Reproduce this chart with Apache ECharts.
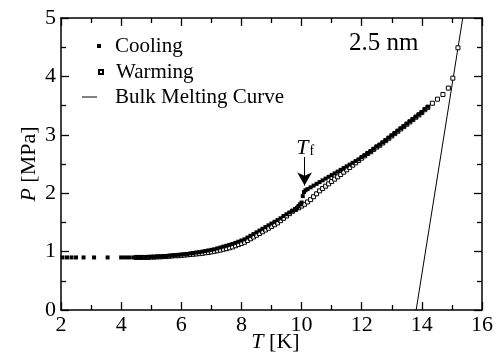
<!DOCTYPE html>
<html>
<head>
<meta charset="utf-8">
<script src="https://cdn.jsdelivr.net/npm/echarts@6/dist/echarts.min.js"></script>
<style>
  html, body { margin: 0; padding: 0; background: #fff; }
  #chart { width: 501px; height: 354px; }
</style>
</head>
<body>
<div id="chart"></div>
<script>
// cooling run, [T (K), P (MPa)]
const coolingPts = [
  [2.05, 0.9], [2.2, 0.9], [2.35, 0.9], [2.5, 0.9], [2.75, 0.9], [3.1, 0.9], [3.55, 0.9],
  [4.0, 0.9], [4.13, 0.9], [4.26, 0.9], [4.4, 0.9], [4.53, 0.905], [4.66, 0.905], [4.8, 0.905],
  [4.9, 0.91], [5.0, 0.91], [5.1, 0.91], [5.2, 0.915], [5.3, 0.915], [5.4, 0.92], [5.5, 0.925],
  [5.6, 0.93], [5.7, 0.935], [5.8, 0.94], [5.9, 0.945], [6.0, 0.95], [6.1, 0.955], [6.2, 0.96],
  [6.3, 0.97], [6.4, 0.975], [6.5, 0.985], [6.6, 0.99], [6.7, 1.0], [6.8, 1.01], [6.9, 1.02],
  [7.0, 1.03], [7.1, 1.04], [7.2, 1.055], [7.3, 1.07], [7.4, 1.085], [7.5, 1.1], [7.6, 1.115],
  [7.7, 1.13], [7.8, 1.15], [7.9, 1.17], [8.0, 1.19], [8.1, 1.21], [8.2, 1.24], [8.3, 1.27],
  [8.4, 1.3], [8.5, 1.33], [8.6, 1.36], [8.7, 1.39], [8.8, 1.42], [8.9, 1.45], [9.0, 1.48],
  [9.1, 1.51], [9.2, 1.54], [9.3, 1.57], [9.4, 1.61], [9.5, 1.64], [9.6, 1.67], [9.7, 1.7],
  [9.8, 1.73], [9.85, 1.75], [9.9, 1.78], [9.95, 1.81], [10.0, 1.84], [10.04, 1.95],
  [10.08, 2.02], [10.13, 2.05], [10.2, 2.07], [10.3, 2.1], [10.4, 2.13], [10.5, 2.16],
  [10.6, 2.19], [10.7, 2.22], [10.8, 2.25], [10.9, 2.28], [11.0, 2.31], [11.1, 2.34],
  [11.2, 2.37], [11.3, 2.4], [11.4, 2.43], [11.5, 2.46], [11.6, 2.49], [11.7, 2.52],
  [11.8, 2.55], [11.9, 2.58], [12.0, 2.62], [12.1, 2.65], [12.2, 2.69], [12.3, 2.72],
  [12.4, 2.76], [12.5, 2.8], [12.6, 2.83], [12.7, 2.87], [12.8, 2.91], [12.9, 2.95],
  [13.0, 2.99], [13.1, 3.03], [13.2, 3.07], [13.3, 3.11], [13.4, 3.15], [13.5, 3.19],
  [13.6, 3.23], [13.7, 3.27], [13.8, 3.31], [13.9, 3.35], [14.0, 3.39], [14.1, 3.44], [14.2, 3.48]
];

// warming run
const warmingPts = [
  [4.5, 0.9], [4.6, 0.9], [4.7, 0.9], [4.8, 0.9], [4.9, 0.9], [5.0, 0.905], [5.1, 0.905],
  [5.2, 0.91], [5.3, 0.91], [5.4, 0.915], [5.5, 0.915], [5.6, 0.92], [5.7, 0.925], [5.8, 0.93],
  [5.9, 0.93], [6.0, 0.935], [6.1, 0.94], [6.2, 0.945], [6.3, 0.95], [6.4, 0.955], [6.5, 0.96],
  [6.6, 0.965], [6.7, 0.97], [6.8, 0.98], [6.9, 0.985], [7.0, 0.995], [7.1, 1.005], [7.2, 1.015],
  [7.3, 1.025], [7.4, 1.04], [7.5, 1.05], [7.6, 1.065], [7.7, 1.08], [7.8, 1.1], [7.9, 1.12],
  [8.0, 1.14], [8.1, 1.16], [8.2, 1.19], [8.3, 1.22], [8.4, 1.25], [8.5, 1.28], [8.6, 1.31],
  [8.7, 1.34], [8.8, 1.37], [8.9, 1.4], [9.0, 1.43], [9.1, 1.46], [9.2, 1.49], [9.3, 1.53],
  [9.4, 1.57], [9.5, 1.61], [9.6, 1.65], [9.7, 1.69], [9.8, 1.72], [9.9, 1.75], [10.0, 1.78],
  [10.1, 1.81], [10.2, 1.85], [10.3, 1.89], [10.4, 1.94], [10.5, 1.99], [10.6, 2.04],
  [10.7, 2.08], [10.8, 2.12], [10.9, 2.16], [11.0, 2.2], [11.1, 2.24], [11.2, 2.28],
  [11.3, 2.32], [11.4, 2.36], [11.5, 2.4], [11.6, 2.44], [11.7, 2.48], [11.8, 2.52],
  [11.9, 2.56], [12.0, 2.6], [12.1, 2.64], [12.2, 2.68], [12.3, 2.71], [12.4, 2.75],
  [12.5, 2.79], [12.6, 2.82], [12.7, 2.86], [12.8, 2.9], [12.9, 2.94], [13.0, 2.98],
  [13.1, 3.02], [13.2, 3.06], [13.3, 3.1], [13.4, 3.14], [13.5, 3.18], [13.6, 3.22],
  [13.7, 3.26], [13.8, 3.3], [13.9, 3.34], [14.0, 3.38], [14.1, 3.43], [14.2, 3.47],
  [14.35, 3.54], [14.52, 3.61], [14.7, 3.69], [14.88, 3.8], [15.03, 3.97], [15.2, 4.49]
];

// bulk melting curve endpoints
const bulkPts = [[13.81, 0], [15.36, 5]];

// T_f arrow
const tfArrow = [[10.1, 2.62], [10.1, 2.13]];
const tfLabelAt = [10.12, 2.77];

const xTicks = { min: 2, max: 16, step: 2 };
const yTicks = { min: 0, max: 5, step: 1 };

const FONT = 'Liberation Serif, Times New Roman, serif';

const myChart = echarts.init(document.getElementById('chart'));

function frameAxis(extra) {
  return Object.assign({
    axisLine: { show: true, onZero: false, lineStyle: { color: '#000', width: 1.5 } },
    axisTick: { show: true, inside: true, length: 8, lineStyle: { color: '#000', width: 1.3 } },
    minorTick: { show: true, splitNumber: 2, length: 5, lineStyle: { color: '#000', width: 1.3 } },
    splitLine: { show: false },
    minorSplitLine: { show: false },
    nameMoveOverlap: false
  }, extra);
}

myChart.setOption({
  animation: false,
  title: {
    text: '2.5 nm',
    left: 349,
    top: 31,
    padding: 0,
    textStyle: { fontFamily: FONT, fontSize: 25, fontWeight: 'normal', color: '#000' }
  },
  legend: [
    {
      data: [{ name: 'Cooling', icon: 'rect' }],
      left: 97, top: 35, padding: 0, orient: 'vertical', selectedMode: false,
      itemWidth: 4, itemHeight: 4,
      textStyle: { fontFamily: FONT, fontSize: 21, color: '#000', lineHeight: 22, padding: [0, 0, 0, 9] }
    },
    {
      data: [{ name: 'Warming', icon: 'rect' }],
      left: 98, top: 61, padding: 0, orient: 'vertical', selectedMode: false,
      itemWidth: 4, itemHeight: 4,
      textStyle: { fontFamily: FONT, fontSize: 21, color: '#000', lineHeight: 22, padding: [0, 0, 0, 8] }
    },
    {
      data: [{ name: 'Bulk Melting Curve', icon: 'rect' }],
      left: 82, top: 86, padding: 0, orient: 'vertical', selectedMode: false,
      itemWidth: 15, itemHeight: 1,
      textStyle: { fontFamily: FONT, fontSize: 21, color: '#000', lineHeight: 22, padding: [0, 0, 0, 13] }
    }
  ],
  grid: { left: 61, right: 19, top: 18, bottom: 44, containLabel: false, outerBoundsMode: 'none' },
  xAxis: [
    frameAxis({
      type: 'value', position: 'bottom',
      min: xTicks.min, max: xTicks.max, interval: xTicks.step,
      name: '{i|T} [K]',
      nameLocation: 'middle', nameGap: 21,
      nameTextStyle: {
        fontFamily: FONT, fontSize: 22, color: '#000', padding: [0, 0, 0, 8],
        rich: { i: { fontFamily: FONT, fontSize: 22, fontStyle: 'italic', color: '#000' } }
      },
      axisLabel: { fontFamily: FONT, fontSize: 22, color: '#000', margin: 4 }
    }),
    frameAxis({
      type: 'value', position: 'top',
      min: xTicks.min, max: xTicks.max, interval: xTicks.step,
      axisLabel: { show: false }
    })
  ],
  yAxis: [
    frameAxis({
      type: 'value', position: 'left',
      min: yTicks.min, max: yTicks.max, interval: yTicks.step,
      name: '{i|P} [MPa]',
      nameLocation: 'middle', nameGap: 21, nameRotate: 90,
      nameTextStyle: {
        fontFamily: FONT, fontSize: 22, color: '#000',
        rich: { i: { fontFamily: FONT, fontSize: 22, fontStyle: 'italic', color: '#000' } }
      },
      axisLabel: { fontFamily: FONT, fontSize: 22, color: '#000', margin: 5 }
    }),
    frameAxis({
      type: 'value', position: 'right',
      min: yTicks.min, max: yTicks.max, interval: yTicks.step,
      axisLabel: { show: false }
    })
  ],
  series: [
    {
      name: 'Bulk Melting Curve',
      type: 'line',
      data: bulkPts,
      symbol: 'none',
      lineStyle: { color: '#000', width: 1 },
      itemStyle: { color: '#000' },
      z: 2
    },
    {
      name: 'Warming',
      type: 'scatter',
      data: warmingPts,
      symbol: 'rect',
      symbolSize: 4,
      itemStyle: { color: '#fff', borderColor: '#000', borderWidth: 1, opacity: 1 },
      z: 3
    },
    {
      name: 'Cooling',
      type: 'scatter',
      data: coolingPts,
      symbol: 'rect',
      symbolSize: 4,
      itemStyle: { color: '#000', opacity: 1 },
      z: 4,
      markLine: {
        silent: true,
        symbol: ['none', 'arrow'],
        symbolSize: [11, 13],
        lineStyle: { color: '#000', width: 1, type: 'solid' },
        label: { show: false },
        data: [[{ coord: tfArrow[0] }, { coord: tfArrow[1] }]]
      },
      markPoint: {
        silent: true,
        symbol: 'circle',
        symbolSize: 0,
        data: [{ coord: tfLabelAt }],
        label: {
          show: true,
          formatter: '{i|T}{s|f}',
          rich: {
            i: { fontFamily: FONT, fontSize: 22, fontStyle: 'italic', color: '#000', verticalAlign: 'bottom' },
            s: { fontFamily: FONT, fontSize: 14, color: '#000', verticalAlign: 'bottom', padding: [0, 0, 1, 1] }
          }
        }
      }
    }
  ]
});

window.addEventListener('resize', () => {
  myChart.resize();
});
</script>
</body>
</html>
